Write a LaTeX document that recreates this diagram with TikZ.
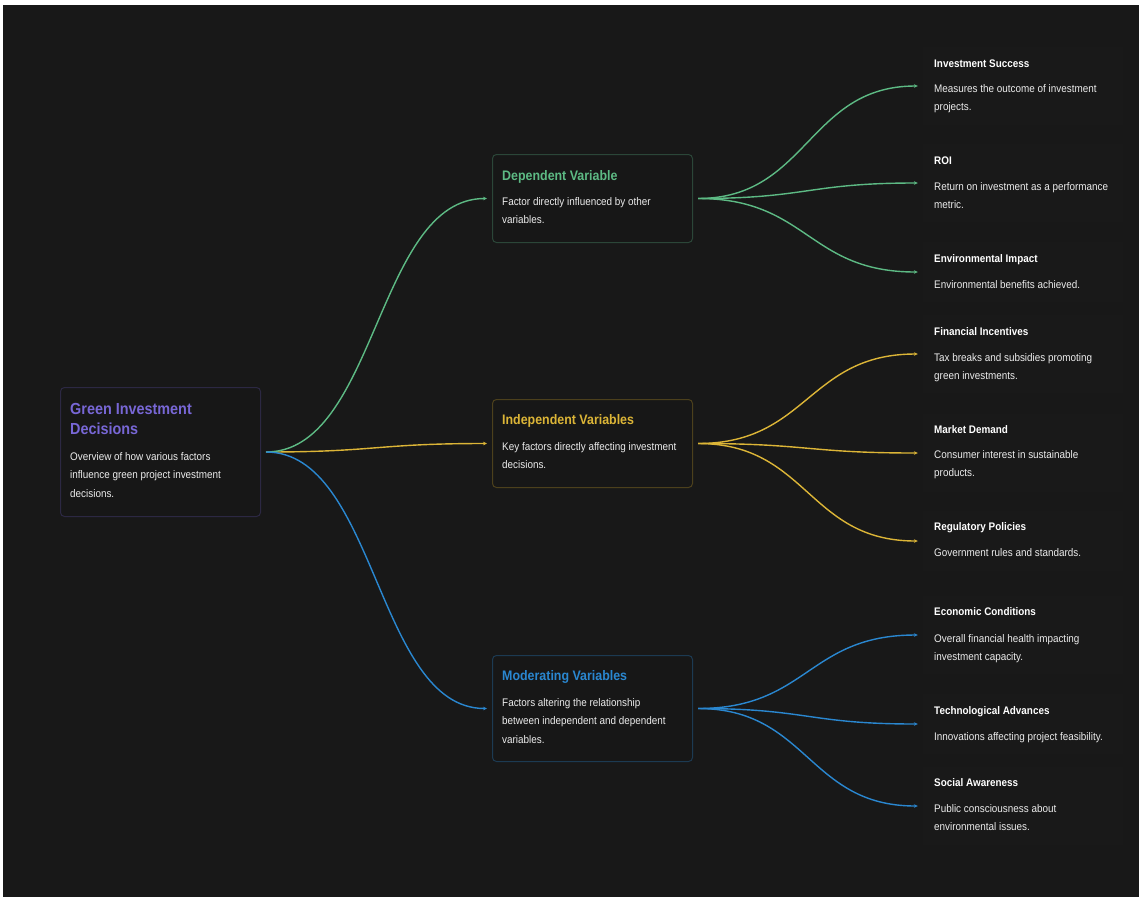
\documentclass[tikz,border=0pt]{standalone}
\usepackage{fontspec}
\setmainfont[FakeStretch=0.9]{Liberation Sans}
\usetikzlibrary{arrows.meta,calc}
\definecolor{bg}{HTML}{181818}
\definecolor{boxfill}{HTML}{171717}
\definecolor{leaffill}{HTML}{191919}
\definecolor{cgreen}{HTML}{5DBA84}
\definecolor{cgold}{HTML}{DCB537}
\definecolor{cblue}{HTML}{2A87D0}
\definecolor{cpurple}{HTML}{7867D6}
\definecolor{bpurple}{HTML}{2C2843}
\definecolor{bgreen}{HTML}{2B4638}
\definecolor{bgold}{HTML}{4C401C}
\definecolor{bblue}{HTML}{1C3A52}
\definecolor{txt}{HTML}{ECECEC}
\begin{document}
\begin{tikzpicture}[x=1pt,y=-1pt,
  box/.style={draw, rounded corners=4pt, line width=1pt, fill=boxfill, minimum width=200pt, inner sep=0pt, anchor=north west},
  leafbox/.style={fill=leaffill, minimum width=200pt, inner sep=0pt},
  desc/.style={anchor=base west, inner sep=0pt, align=left, text=txt, font=\fontsize{11}{18.5}\selectfont},
  ctitle/.style={anchor=base west, inner sep=0pt, font=\fontsize{13.8}{18}\selectfont\bfseries},
  ltitle/.style={anchor=base west, inner sep=0pt, text=white, font=\fontsize{11}{14}\selectfont\bfseries},
  link/.style={draw=#1, line width=1.4pt, shorten <=5pt, shorten >=5pt,
    -{Stealth[length=4pt,width=3.6pt]},
    to path={let \p1=(\tikztostart), \p2=(\tikztotarget) in
      .. controls ({0.5*\x1+0.5*\x2},\y1) and ({0.5*\x1+0.5*\x2},\y2) .. (\tikztotarget) \tikztonodes}}
]
\useasboundingbox (0,0) rectangle (1139,897);
\fill[white] (0,0) rectangle (1139,897);
\fill[bg] (3,5) rectangle (1139,897);

% main node (multi-line nodes: base = last line's baseline)
\node[box, draw=bpurple, minimum height=129pt] (main) at (60,387) {};
\node[anchor=base west, inner sep=0pt, align=left, text=cpurple, font=\fontsize{16}{20}\selectfont\bfseries] (maint) at (70,434) {Green Investment\\Decisions};
\node[desc] (maind) at (70,497) {Overview of how various factors\\influence green project investment\\decisions.};

% children
\node[box, draw=bgreen, minimum height=88pt] (dep) at (492,154) {};
\node[ctitle, text=cgreen] (dept) at (502,180) {Dependent Variable};
\node[desc] (depd) at (502,223.5) {Factor directly influenced by other\\variables.};

\node[box, draw=bgold, minimum height=88pt] (ind) at (492,399) {};
\node[ctitle, text=cgold] (indt) at (502,424) {Independent Variables};
\node[desc] (indd) at (502,468.5) {Key factors directly affecting investment\\decisions.};

\node[box, draw=bblue, minimum height=106pt] (mod) at (492,655) {};
\node[ctitle, text=cblue] (modt) at (502,680) {Moderating Variables};
\node[desc] (modd) at (502,743) {Factors altering the relationship\\between independent and dependent\\variables.};

% leaves
\node[leafbox, minimum height=78pt] (l1) at (1023,86) {};
\node[ltitle] (l1t) at (934,67) {Investment Success};
\node[desc] (l1d) at (934,110.5) {Measures the outcome of investment\\projects.};

\node[leafbox, minimum height=78pt] (l2) at (1023,183) {};
\node[ltitle] (l2t) at (934,164) {ROI};
\node[desc] (l2d) at (934,208.5) {Return on investment as a performance\\metric.};

\node[leafbox, minimum height=60pt] (l3) at (1023,272) {};
\node[ltitle] (l3t) at (934,262) {Environmental Impact};
\node[desc] (l3d) at (934,288) {Environmental benefits achieved.};

\node[leafbox, minimum height=78pt] (l4) at (1023,354) {};
\node[ltitle] (l4t) at (934,335) {Financial Incentives};
\node[desc] (l4d) at (934,379.5) {Tax breaks and subsidies promoting\\green investments.};

\node[leafbox, minimum height=78pt] (l5) at (1023,453) {};
\node[ltitle] (l5t) at (934,433) {Market Demand};
\node[desc] (l5d) at (934,476.5) {Consumer interest in sustainable\\products.};

\node[leafbox, minimum height=60pt] (l6) at (1023,541) {};
\node[ltitle] (l6t) at (934,530) {Regulatory Policies};
\node[desc] (l6d) at (934,556) {Government rules and standards.};

\node[leafbox, minimum height=78pt] (l7) at (1023,635) {};
\node[ltitle] (l7t) at (934,615) {Economic Conditions};
\node[desc] (l7d) at (934,660.5) {Overall financial health impacting\\investment capacity.};

\node[leafbox, minimum height=60pt] (l8) at (1023,724) {};
\node[ltitle] (l8t) at (934,714) {Technological Advances};
\node[desc] (l8d) at (934,740) {Innovations affecting project feasibility.};

\node[leafbox, minimum height=78pt] (l9) at (1023,806) {};
\node[ltitle] (l9t) at (934,786) {Social Awareness};
\node[desc] (l9d) at (934,830.5) {Public consciousness about\\environmental issues.};

% connectors
\draw[link=cgold] (main.east) to (ind.west);
\draw[link=cgreen] (main.east) to (dep.west);
\draw[link=cblue] (main.east) to (mod.west);

\draw[link=cgreen] (dep.east) to (l1.west);
\draw[link=cgreen] (dep.east) to (l2.west);
\draw[link=cgreen] (dep.east) to (l3.west);
\draw[link=cgold] (ind.east) to (l4.west);
\draw[link=cgold] (ind.east) to (l5.west);
\draw[link=cgold] (ind.east) to (l6.west);
\draw[link=cblue] (mod.east) to (l7.west);
\draw[link=cblue] (mod.east) to (l8.west);
\draw[link=cblue] (mod.east) to (l9.west);
\end{tikzpicture}
\end{document}
